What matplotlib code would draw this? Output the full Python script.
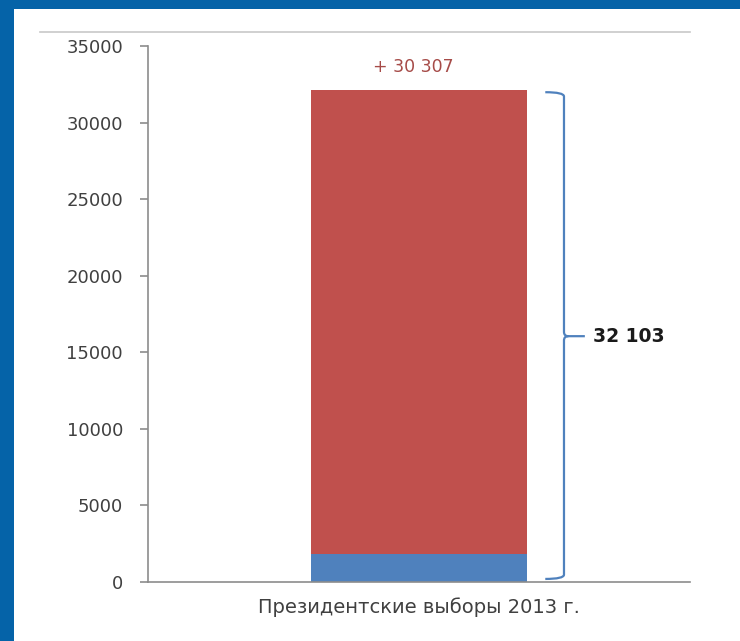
import matplotlib
matplotlib.use("Agg")
import matplotlib.pyplot as plt
from matplotlib.patches import Rectangle, PathPatch
from matplotlib.path import Path

# data
category = "Президентские выборы 2013 г."
base_value = 1796      # lower (blue) segment
added_value = 30307    # upper (red) segment
total_value = base_value + added_value
added_label = "+ 30 307"
total_label = "32 103"
yticks = [0, 5000, 10000, 15000, 20000, 25000, 30000, 35000]

blue = "#4f81bd"
red = "#c0504d"
frame_blue = "#0563a8"

plt.rcParams['font.family'] = ['DejaVu Sans']

fig = plt.figure(figsize=(7.4, 6.41), dpi=100)
fig.patch.set_facecolor("white")

# blue frame of the slide (top and left)
fig.patches.append(Rectangle((0, 1 - 9 / 641), 1, 9 / 641, transform=fig.transFigure,
                             facecolor=frame_blue, edgecolor="none", zorder=0))
fig.patches.append(Rectangle((0, 0), 14 / 740, 1, transform=fig.transFigure,
                             facecolor=frame_blue, edgecolor="none", zorder=0))
# thin grey top border of the chart area
fig.lines.append(plt.Line2D([40 / 740, 690 / 740], [1 - 32 / 641, 1 - 32 / 641],
                            transform=fig.transFigure, color="#c8c8c8", lw=1.2))

ax = fig.add_axes([148 / 740, 1 - 582 / 641, 542 / 740, 536 / 641])
ax.bar([0], [base_value], width=0.4, color=blue, zorder=2)
ax.bar([0], [added_value], bottom=[base_value], width=0.4, color=red, zorder=2)

ax.set_xlim(-0.5, 0.5)
ax.set_ylim(0, 35000)
ax.set_yticks(yticks)
ax.set_xticks([0])
ax.set_xticklabels([category])

for s in ["top", "right"]:
    ax.spines[s].set_visible(False)
for s in ["left", "bottom"]:
    ax.spines[s].set_color("#8c8c8c")
    ax.spines[s].set_linewidth(1.2)
ax.tick_params(axis="y", length=6, width=1.2, color="#8c8c8c", labelsize=13,
               labelcolor="#404040", pad=12)
ax.tick_params(axis="x", length=0, labelsize=14, labelcolor="#404040", pad=11)

# label above the bar
ax.text(-0.01, total_value + 1500, added_label, ha="center", va="center",
        fontsize=12.5, color="#a64b48")

# curly brace to the right of the bar
x0, x1, xt = 0.233, 0.2675, 0.306
ylo, yhi = 200, total_value - 120
ymid = total_value / 2
r = 280
verts = [(x0, yhi), (x1, yhi), (x1, yhi - r),
         (x1, ymid + r), (x1, ymid), (x1 + 0.008, ymid), (xt, ymid),
         (x1 + 0.008, ymid), (x1, ymid), (x1, ymid - r),
         (x1, ylo + r), (x1, ylo), (x0, ylo)]
codes = [Path.MOVETO, Path.CURVE3, Path.CURVE3,
         Path.LINETO, Path.CURVE3, Path.CURVE3, Path.LINETO,
         Path.MOVETO, Path.CURVE3, Path.CURVE3,
         Path.LINETO, Path.CURVE3, Path.CURVE3]
ax.add_patch(PathPatch(Path(verts, codes), facecolor="none", edgecolor=blue,
                       lw=1.6, clip_on=False, zorder=3))
ax.text(0.321, ymid, total_label, ha="left", va="center", fontsize=13.5,
        fontweight="bold", color="#1a1a1a")

fig.savefig("out.png", dpi=100)
